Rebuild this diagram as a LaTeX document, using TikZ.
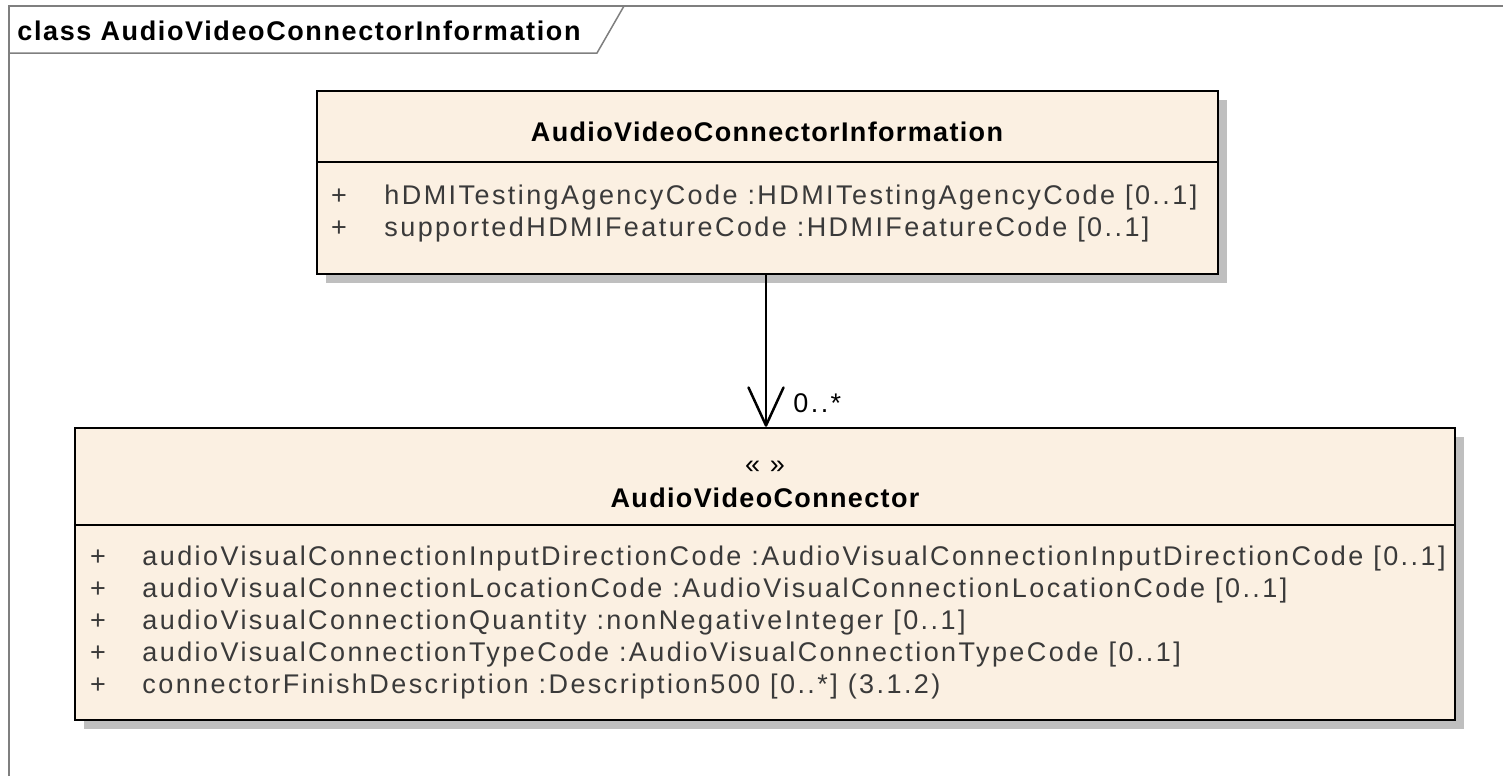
\documentclass[tikz,border=0pt]{standalone}
\usepackage{fontspec}
\setmainfont{Liberation Sans}
\newfontfamily\attrfont[LetterSpace=9]{Liberation Sans}
\newfontfamily\titlefont[LetterSpace=5]{Liberation Sans Bold}
\newfontfamily\tabfont[LetterSpace=6]{Liberation Sans Bold}
\usetikzlibrary{arrows.meta,shadows}
\definecolor{classfill}{HTML}{FBF0E2}
\definecolor{shadowgray}{HTML}{BFBFBF}
\definecolor{framegray}{HTML}{7F7F7F}
\definecolor{attrgray}{HTML}{3A3A3A}
\tikzset{
  classbox/.style={draw=black, line width=1.25pt, fill=classfill, inner sep=0,
    drop shadow={shadow xshift=4.5pt, shadow yshift=-4.5pt, fill=shadowgray, opacity=1}},
  attr/.style={font=\attrfont\fontsize{13.5pt}{16pt}\selectfont, text=attrgray, inner sep=0, anchor=base west},
  vis/.style={font=\attrfont\fontsize{13.5pt}{16pt}\selectfont, text=attrgray, inner sep=0, anchor=base},
  ctitle/.style={font=\titlefont\fontsize{13.5pt}{16pt}\selectfont, text=black, inner sep=0, anchor=base},
  tabtitle/.style={font=\tabfont\fontsize{13.5pt}{16pt}\selectfont, text=black, inner sep=0, anchor=base west},
  stereo/.style={font=\attrfont\fontsize{13.5pt}{16pt}\selectfont, text=black, inner sep=0, anchor=base},
  divider/.style={draw=black, line width=1.25pt},
  framestyle/.style={draw=framegray, line width=0.75pt},
  assoc/.style={draw=black, line width=1.25pt, -{Straight Barb[length=19pt, width=17.5pt, round]}},
  mult/.style={font=\attrfont\fontsize{13.5pt}{16pt}\selectfont, text=black, inner sep=0, anchor=base west}
}
\begin{document}
\begin{tikzpicture}[x=0.5pt, y=-0.5pt]
\useasboundingbox (0,0) rectangle (1503,776);
% frame
\draw[framestyle] (9,776) -- (9,6) -- (1503,6);
\draw[framestyle] (9,53) -- (597,53) -- (624,6);
\node[tabtitle] (frametitle) at (17,40) {class AudioVideoConnectorInformation};
% top class
\node[classbox, minimum width=450.5pt, minimum height=91.5pt] (info) at (767.5,182.5) {};
\draw[divider] (info.west |- 0,162) -- (info.east |- 0,162);
\node[ctitle] (infotitle) at (767,141) {AudioVideoConnectorInformation};
\node[vis] (ip1) at (339,204) {+};
\node[attr] (ia1) at (384,204) {hDMITestingAgencyCode :HDMITestingAgencyCode [0..1]};
\node[vis] (ip2) at (339,236) {+};
\node[attr] (ia2) at (384,236) {supportedHDMIFeatureCode :HDMIFeatureCode [0..1]};
% bottom class
\node[classbox, minimum width=690pt, minimum height=146pt] (avc) at (765,574) {};
\draw[divider] (avc.west |- 0,525) -- (avc.east |- 0,525);
\node[stereo] (avcster) at (765,473) {« »};
\node[ctitle] (avctitle) at (765,507) {AudioVideoConnector};
\node[vis] (bp1) at (98,565) {+};
\node[attr] (ba1) at (142,565) {audioVisualConnectionInputDirectionCode :AudioVisualConnectionInputDirectionCode [0..1]};
\node[vis] (bp2) at (98,597) {+};
\node[attr] (ba2) at (142,597) {audioVisualConnectionLocationCode :AudioVisualConnectionLocationCode [0..1]};
\node[vis] (bp3) at (98,629) {+};
\node[attr] (ba3) at (142,629) {audioVisualConnectionQuantity :nonNegativeInteger [0..1]};
\node[vis] (bp4) at (98,661) {+};
\node[attr] (ba4) at (142,661) {audioVisualConnectionTypeCode :AudioVisualConnectionTypeCode [0..1]};
\node[vis] (bp5) at (98,693) {+};
\node[attr] (ba5) at (142,693) {connectorFinishDescription :Description500 [0..*] (3.1.2)};
% association
\coordinate (atop) at (766,274);
\coordinate (abot) at (766,428);
\draw[assoc] (info.south -| atop) -- (avc.north -| abot);
\node[mult] (m1) at (793,412) {0..*};
\end{tikzpicture}
\end{document}
